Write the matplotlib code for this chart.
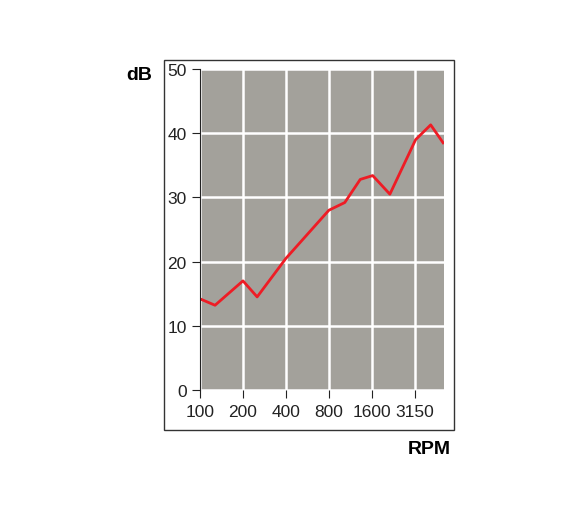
import matplotlib.pyplot as plt
from matplotlib.patches import Rectangle

plt.rcParams['font.family'] = ['Liberation Sans', 'DejaVu Sans']

# positions in octaves above 100 RPM
pos = [0, 0.35, 1.0, 1.33, 2.0, 3.0, 3.37, 3.73, 4.02, 4.42, 5.02, 5.37, 5.66]
db = [14.2, 13.2, 17.0, 14.5, 20.5, 28.0, 29.2, 32.8, 33.4, 30.5, 39.0, 41.3, 38.5]
tick_pos = [0, 1, 2, 3, 4, 5]
tick_labels = ['100', '200', '400', '800', '1600', '3150']
y_ticks = [0, 10, 20, 30, 40, 50]

fig = plt.figure(figsize=(5.88, 5.06), dpi=100)
fig.patches.append(Rectangle((164/588, 1-431/506), 290/588, 370/506,
                             transform=fig.transFigure, fill=False, ec='#333333', lw=1))
ax = fig.add_axes([200/588, 1-391/506, 244/588, 321/506])
ax.set_facecolor('#a3a19b')
ax.plot(pos, db, color='#ee1c25', lw=2)
ax.set_xlim(0, 5.68)
ax.set_ylim(0, 50)
ax.set_xticks(tick_pos)
ax.set_xticklabels(tick_labels)
ax.set_yticks(y_ticks)
ax.grid(True, color='white', lw=1.8)
ax.set_axisbelow(True)
for s in ['top', 'right', 'bottom']:
    ax.spines[s].set_visible(False)
ax.spines['left'].set_color('#222222')
ax.tick_params(axis='both', colors='#222222', labelsize=12.5, direction='out', length=6)
ax.tick_params(axis='x', pad=4)
fig.text(126/588, 1-75/506, 'dB', fontsize=14, fontweight='bold', va='center')
fig.text(408/588, 1-450/506, 'RPM', fontsize=14, fontweight='bold', va='center')
fig.savefig('out.png', dpi=100)
